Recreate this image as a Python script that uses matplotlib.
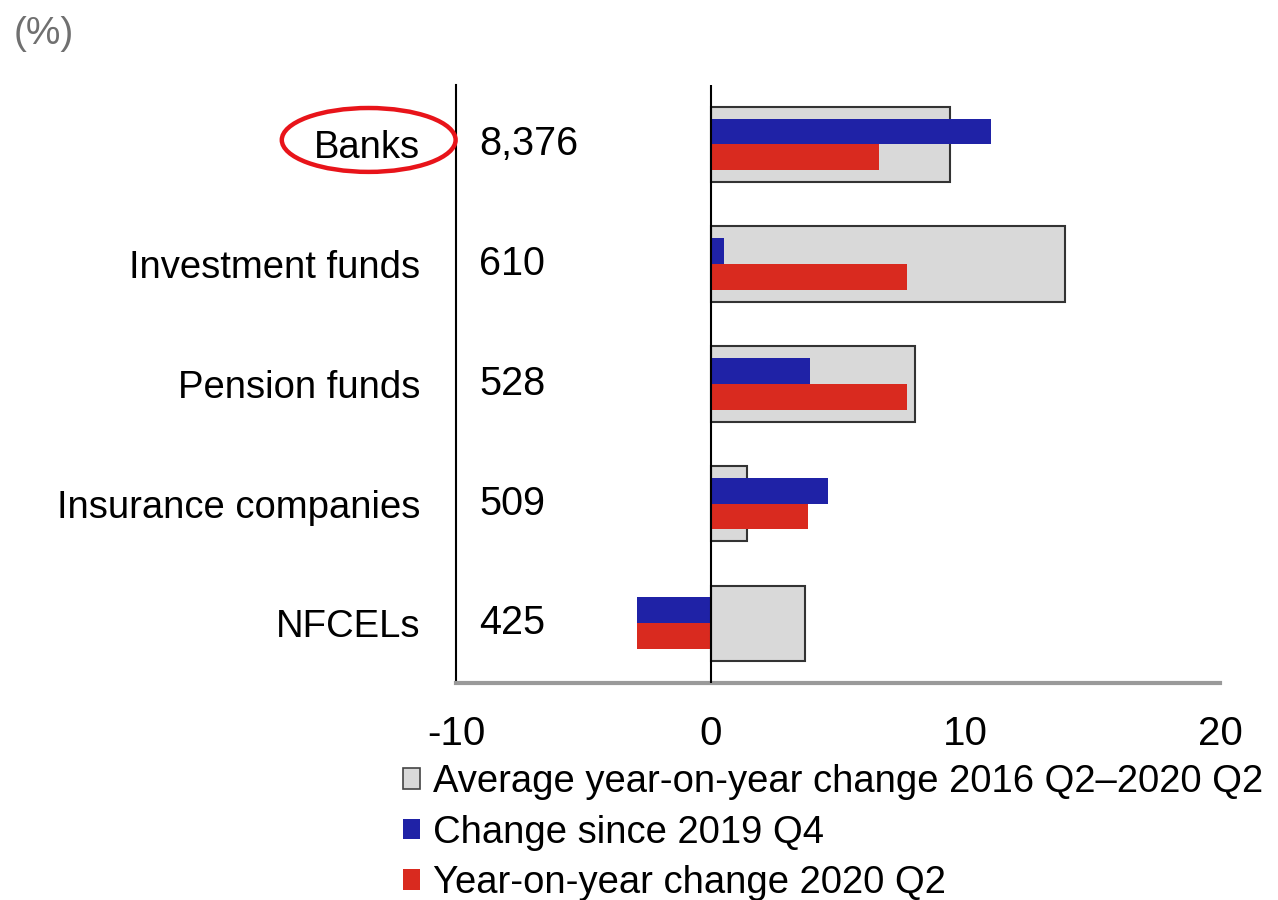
import matplotlib
matplotlib.use("Agg")
import matplotlib.pyplot as plt
from matplotlib.patches import Patch, Ellipse

plt.rcParams['font.family'] = ['Liberation Sans', 'DejaVu Sans']

categories = ["Banks", "Investment funds", "Pension funds", "Insurance companies", "NFCELs"]
totals = ["8,376", "610", "528", "509", "425"]
avg_change = [9.4, 13.9, 8.0, 1.4, 3.7]
since_2019q4 = [11.0, 0.5, 3.9, 4.6, -2.9]
yoy_2020q2 = [6.6, 7.7, 7.7, 3.8, -2.9]
legend_labels = ["Average year-on-year change 2016 Q2\u20132020 Q2",
                 "Change since 2019 Q4",
                 "Year-on-year change 2020 Q2"]

gray = "#d9d9d9"
blue = "#1f22a6"
red = "#d92a1f"

fig = plt.figure(figsize=(12.78, 9.0), dpi=100)
ax = fig.add_axes([0.357, 0.241, 0.598, 0.665])

y = list(range(len(categories)))
ax.barh(y, avg_change, height=0.63, color=gray, edgecolor="#333333", linewidth=1.5, zorder=2)
ax.barh([v - 0.108 for v in y], since_2019q4, height=0.216, color=blue, zorder=3)
ax.barh([v + 0.108 for v in y], yoy_2020q2, height=0.216, color=red, zorder=3)
ax.axvline(0, color="black", linewidth=1.5, zorder=4)

ax.set_xlim(-10, 20)
ax.set_ylim(4.5, -0.5)
ax.set_xticks([-10, 0, 10, 20])
ax.set_xticklabels(["-10", "0", "10", "20"])
ax.tick_params(axis="x", length=0, labelsize=29, pad=23)
ax.set_yticks(y)
ax.set_yticklabels(categories)
ax.tick_params(axis="y", length=0, labelsize=27.5, pad=26)

for i, t in enumerate(totals):
    ax.text(-9.1, i, t, va="center", ha="left", fontsize=28.5)

for side in ("top", "right"):
    ax.spines[side].set_visible(False)
ax.spines["left"].set_color("black")
ax.spines["left"].set_linewidth(1.5)
ax.spines["bottom"].set_color("#9a9a9a")
ax.spines["bottom"].set_linewidth(3)

fig.text(0.011, 0.962, "(%)", fontsize=28, color="#707070", va="center", ha="left")

fig.add_artist(Ellipse((0.2885, 0.8445), 0.136, 0.071, transform=fig.transFigure,
                       fill=False, edgecolor="#e8141a", linewidth=3.2))

handles = [Patch(facecolor=gray, edgecolor="#444444", linewidth=1.2),
           Patch(facecolor=blue),
           Patch(facecolor=red)]
fig.legend(handles, legend_labels, loc="upper left", bbox_to_anchor=(0.315, 0.151),
           frameon=False, fontsize=27.5, handlelength=0.45, handleheight=0.45,
           handletextpad=0.35, labelspacing=0.38, borderpad=0, borderaxespad=0)

fig.savefig("out.png", dpi=100)
